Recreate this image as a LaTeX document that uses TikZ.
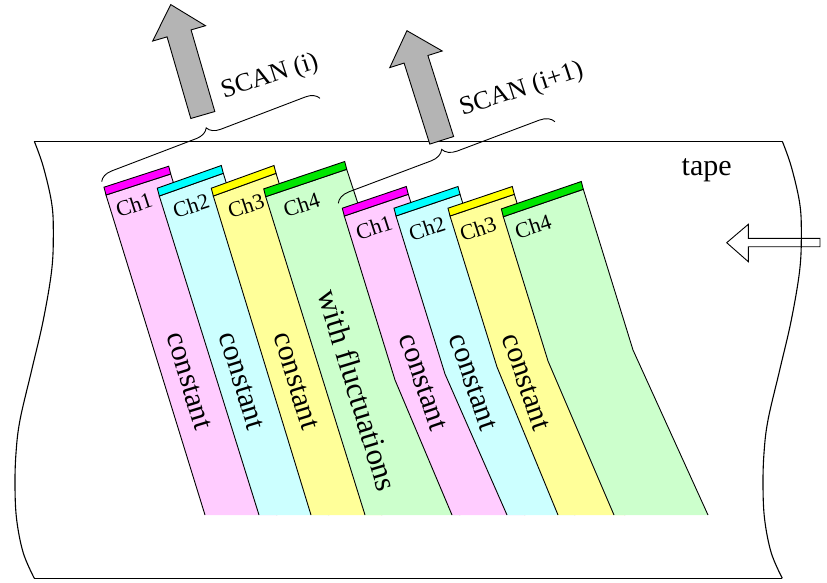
\documentclass[tikz,border=0pt]{standalone}
\usepackage{fontspec}
\setmainfont{Liberation Serif}
\usetikzlibrary{decorations.pathreplacing}
\definecolor{pinkL}{RGB}{255,204,255}
\definecolor{cyanL}{RGB}{204,255,255}
\definecolor{yellowL}{RGB}{255,255,153}
\definecolor{greenL}{RGB}{204,255,204}
\definecolor{pinkB}{RGB}{255,0,255}
\definecolor{cyanB}{RGB}{0,255,255}
\definecolor{yellowB}{RGB}{255,255,0}
\definecolor{greenB}{RGB}{0,230,0}
\definecolor{arrowgray}{RGB}{180,180,180}
\newcommand\tapeedge{plot[smooth, tension=0.6] coordinates {(34.3,141.3) (43.3,166.7) (51.7,203.3) (53.3,233.3) (51.7,270) (43.3,320) (31.7,370) (20,420) (16,453) (15,486.7) (16.7,520) (23.3,553) (34.3,578.3)}}
\newcommand\scanshape{(-12.5,0) -- (12.5,0) -- (12.5,85) -- (27.5,85) -- (0,115) -- (-27.5,85) -- (-12.5,85) -- cycle}
\begin{document}
\begin{tikzpicture}[x=1pt,y=-1pt,
  edge/.style={line width=0.9pt, line join=miter},
  tapeline/.style={line width=1.1pt},
  barbox/.style={draw=black, line width=0.9pt},
  chlabel/.style={font=\fontsize{22}{24}\selectfont, rotate=18, inner sep=0pt},
  strlabel/.style={font=\fontsize{30}{32}\selectfont, rotate=-73, inner sep=0pt},
  strlabelb/.style={font=\fontsize{30}{32}\selectfont, rotate=-71, inner sep=0pt},
  scanlabel/.style={font=\fontsize{26}{28}\selectfont, rotate=18, inner sep=0pt},
  bigtext/.style={font=\fontsize{30}{32}\selectfont, inner sep=0pt},
  scanarrow/.style={fill=arrowgray, draw=black, line width=0.9pt},
  scanbrace/.style={decorate, decoration={brace, amplitude=13pt}, line width=0.9pt}]
\useasboundingbox (0,0) rectangle (827,582);

% tape
\draw[tapeline] (34.3,141.3) -- (782.3,141.3);
\draw[tapeline] (34.3,578.3) -- (782.3,578.3);
\draw[tapeline] \tapeedge;
\begin{scope}[xshift=748pt]
\draw[tapeline] \tapeedge;
\end{scope}
\node[bigtext] (tape) at (706.7,170) {tape};
\draw[edge] (726.7,242.7) -- (748.3,224.3) -- (748.3,238.3) -- (820,238.3) -- (820,246.7) -- (748.3,246.7) -- (748.3,261.7) -- cycle;

% ---- group 1 ----
\fill[pinkL] (205,515) -- (106,195) -- (170.7,174) -- (277,515) -- cycle;
\draw[edge] (205,515) -- (106,195) -- (170.7,174) -- (277,515);
\filldraw[barbox, fill=pinkB] (106,195) -- (170.7,174) -- (168.7,166.2) -- (104,187.2) -- cycle;
\fill[cyanL] (259,515) -- (159.3,196) -- (223.3,173.3) -- (329,515) -- cycle;
\draw[edge] (259,515) -- (159.3,196) -- (223.3,173.3) -- (329,515);
\filldraw[barbox, fill=cyanB] (159.3,196) -- (223.3,173.3) -- (221.3,165.5) -- (157.3,188.2) -- cycle;
\fill[yellowL] (311,515) -- (213.3,196) -- (276,173.3) -- (382,515) -- cycle;
\draw[edge] (311,515) -- (213.3,196) -- (276,173.3) -- (382,515);
\filldraw[barbox, fill=yellowB] (213.3,196) -- (276,173.3) -- (274,165.5) -- (211.3,188.2) -- cycle;
\fill[greenL] (365,515) -- (265.7,196.7) -- (346.7,169.3) -- (460,515) -- cycle;
\draw[edge] (365,515) -- (265.7,196.7) -- (346.7,169.3) -- (460,515);
\filldraw[barbox, fill=greenB] (265.7,196.7) -- (346.7,169.3) -- (344.7,161.5) -- (263.7,188.9) -- cycle;

% ---- group 2 ----
\fill[pinkL] (452,515) -- (395,380) -- (344.3,216) -- (408.3,194.3) -- (459,358) -- (525,515) -- cycle;
\draw[edge] (452,515) -- (395,380) -- (344.3,216) -- (408.3,194.3) -- (459,358) -- (525,515);
\filldraw[barbox, fill=pinkB] (344.3,216) -- (408.3,194.3) -- (406.3,186.5) -- (342.3,208.2) -- cycle;
\fill[cyanL] (507,515) -- (445,374) -- (396,216) -- (460,194.3) -- (509,352) -- (575,515) -- cycle;
\draw[edge] (507,515) -- (445,374) -- (396,216) -- (460,194.3) -- (509,352) -- (575,515);
\filldraw[barbox, fill=cyanB] (396,216) -- (460,194.3) -- (458,186.5) -- (394,208.2) -- cycle;
\fill[yellowL] (558,515) -- (497,367) -- (450,216) -- (514.3,194.3) -- (561,345) -- (625,515) -- cycle;
\draw[edge] (558,515) -- (497,367) -- (450,216) -- (514.3,194.3) -- (561,345) -- (625,515);
\filldraw[barbox, fill=yellowB] (450,216) -- (514.3,194.3) -- (512.3,186.5) -- (448,208.2) -- cycle;
\fill[greenL] (614,515) -- (548,361) -- (503.3,216.7) -- (583.3,189.3) -- (633,350) -- (708,515) -- cycle;
\draw[edge] (614,515) -- (548,361) -- (503.3,216.7) -- (583.3,189.3) -- (633,350) -- (708,515);
\filldraw[barbox, fill=greenB] (503.3,216.7) -- (583.3,189.3) -- (581.3,181.5) -- (501.3,208.9) -- cycle;

% channel labels
\node[chlabel] (ch1a) at (134,205) {Ch1};
\node[chlabel] (ch2a) at (191,206) {Ch2};
\node[chlabel] (ch3a) at (246,206) {Ch3};
\node[chlabel] (ch4a) at (301.5,205) {Ch4};
\node[chlabel] (ch1b) at (374,227.5) {Ch1};
\node[chlabel] (ch2b) at (427,228.3) {Ch2};
\node[chlabel] (ch3b) at (478,229) {Ch3};
\node[chlabel] (ch4b) at (533,226.7) {Ch4};

% strip texts
\node[strlabel] (c1a) at (189,381) {constant};
\node[strlabel] (c2a) at (241.5,381) {constant};
\node[strlabel] (c3a) at (296,381) {constant};
\node[strlabel, font=\fontsize{31}{33}\selectfont] (fl) at (358,390) {with fluctuations};
\node[strlabelb] (c1b) at (423,382) {constant};
\node[strlabelb] (c2b) at (473,382) {constant};
\node[strlabelb] (c3b) at (526,382) {constant};

% braces
\draw[scanbrace] (101.7,181.7) -- (320,98.3);
\draw[scanbrace, decoration={amplitude=14pt}] (338.3,203.3) -- (555,121.7);

% scan arrows
\begin{scope}[shift={(202.8,115)}]
\begin{scope}[x=1pt,y=1pt,rotate=16.2]
\draw[scanarrow] \scanshape;
\end{scope}
\end{scope}
\begin{scope}[shift={(441.7,140.3)}]
\begin{scope}[x=1pt,y=1pt,rotate=17.6]
\draw[scanarrow] \scanshape;
\end{scope}
\end{scope}

\node[scanlabel] (scan1) at (270,77) {SCAN (i)};
\node[scanlabel] (scan2) at (521.7,90) {SCAN (i+1)};
\end{tikzpicture}
\end{document}
